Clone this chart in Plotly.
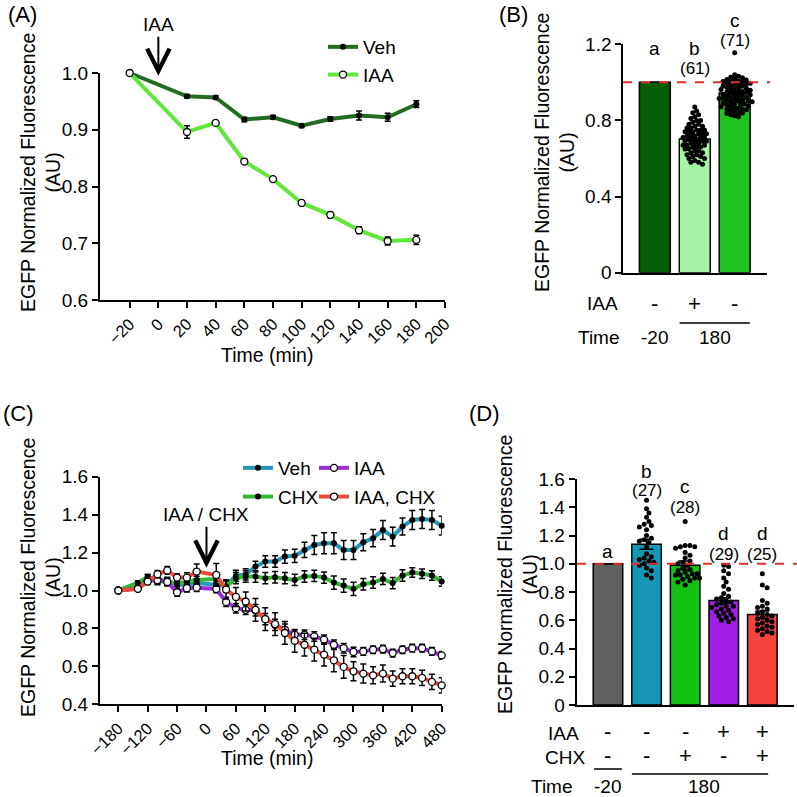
import plotly.graph_objects as go

W, H = 797, 797
FONT = "Liberation Sans, Arial, Helvetica, sans-serif"

# ---------------- Panel A data ----------------
tA = [-20, 20, 40, 60, 80, 100, 120, 140, 160, 180]
vehA = [1.0, 0.959, 0.957, 0.918, 0.922, 0.907, 0.919, 0.925, 0.922, 0.945]
vehA_err = [0, 0.003, 0.003, 0.004, 0.003, 0.003, 0.004, 0.008, 0.007, 0.006]
iaaA = [1.0, 0.896, 0.912, 0.844, 0.813, 0.771, 0.750, 0.723, 0.704, 0.706]
iaaA_err = [0, 0.011, 0.003, 0.003, 0.003, 0.003, 0.005, 0.006, 0.007, 0.008]
A_xticks = [-20, 0, 20, 40, 60, 80, 100, 120, 140, 160, 180, 200]
A_yticks = [0.6, 0.7, 0.8, 0.9, 1.0]

# ---------------- Panel B data ----------------
B_means = [1.0, 0.702, 0.944]
B_sem = [0.0, 0.008, 0.007]
B_letters = ["a", "b", "c"]
B_n = ["", "(61)", "(71)"]
B_iaa = ["-", "+", "-"]
B_pts_iaa = [0.87, 0.85, 0.84, 0.83, 0.82, 0.81, 0.80, 0.80, 0.79, 0.78, 0.78,
             0.77, 0.77, 0.76, 0.76, 0.75, 0.75, 0.75, 0.74, 0.74, 0.74, 0.73,
             0.73, 0.73, 0.72, 0.72, 0.72, 0.71, 0.71, 0.71, 0.70, 0.70, 0.70,
             0.69, 0.69, 0.69, 0.68, 0.68, 0.68, 0.67, 0.67, 0.67, 0.66, 0.66,
             0.66, 0.65, 0.65, 0.64, 0.64, 0.63, 0.63, 0.62, 0.62, 0.61, 0.61,
             0.60, 0.60, 0.59, 0.58, 0.58, 0.57]
B_pts_veh = [1.155, 1.04, 1.032, 1.027,
             1.024, 1.019, 1.015, 1.012, 1.008, 1.004, 1.001,
             0.998, 0.994, 0.991, 0.987, 0.984, 0.981, 0.977, 0.973,
             0.969, 0.966, 0.963, 0.959, 0.955, 0.952, 0.948, 0.945,
             0.941, 0.938, 0.935, 0.931, 0.928, 0.924, 0.921, 0.918,
             0.915, 0.911, 0.908, 0.905, 0.902, 0.898, 0.895, 0.891,
             0.888, 0.884, 0.880, 0.876, 0.872, 0.868, 0.864, 0.860,
             0.856, 0.852, 0.847, 0.842, 0.836, 0.830, 0.824, 0.820,
             1.006, 0.996, 0.979, 0.962, 0.949, 0.933, 0.917, 0.903,
             0.889, 0.874, 0.858, 0.839]
B_yticks = [0, 0.4, 0.8, 1.2]
B_yticktext = ["0", "0.4", "0.8", "1.2"]

# ---------------- Panel C data ----------------
tC = [-180, -140, -120, -100, -80, -60, -40, -20, 20, 40, 60, 80, 100, 120,
      140, 160, 180, 200, 220, 240, 260, 280, 300, 320, 340, 360, 380, 400,
      420, 440, 460, 480]
vehC = [1.00, 1.04, 1.07, 1.06, 1.05, 1.03, 1.03, 1.04, 1.03, 1.025, 1.077,
        1.085, 1.126, 1.153, 1.153, 1.179, 1.183, 1.214, 1.24, 1.249, 1.249,
        1.214, 1.214, 1.254, 1.276, 1.319, 1.284, 1.337, 1.372, 1.377, 1.372,
        1.342]
vehC_err = [0, 0.01, 0.015, 0.02, 0.02, 0.02, 0.02, 0.02, 0.02, 0.03, 0.03,
            0.03, 0.028, 0.03, 0.03, 0.035, 0.035, 0.04, 0.05, 0.055, 0.055,
            0.05, 0.05, 0.045, 0.045, 0.05, 0.05, 0.045, 0.05, 0.05, 0.05, 0.05]
chxC = [1.00, 1.04, 1.07, 1.05, 1.045, 1.04, 1.045, 1.055, 1.06, 1.02, 1.065,
        1.074, 1.074, 1.065, 1.07, 1.065, 1.056, 1.074, 1.077, 1.068, 1.042,
        1.026, 1.009, 1.033, 1.042, 1.061, 1.039, 1.079, 1.095, 1.088, 1.079,
        1.047]
chxC_err = [0, 0.01, 0.015, 0.02, 0.02, 0.02, 0.02, 0.02, 0.02, 0.03, 0.03,
            0.03, 0.03, 0.03, 0.03, 0.03, 0.03, 0.03, 0.03, 0.03, 0.035, 0.035,
            0.035, 0.03, 0.03, 0.03, 0.03, 0.03, 0.025, 0.025, 0.025, 0.025]
iaaC = [1.00, 1.01, 1.05, 1.055, 1.045, 0.99, 1.012, 1.015, 1.008, 0.94,
        0.907, 0.898, 0.896, 0.849, 0.819, 0.793, 0.767, 0.767, 0.758, 0.741,
        0.714, 0.696, 0.676, 0.679, 0.688, 0.691, 0.670, 0.688, 0.696, 0.696,
        0.679, 0.658]
iaaC_err = [0, 0.01, 0.015, 0.02, 0.02, 0.02, 0.02, 0.02, 0.02, 0.025, 0.025,
            0.025, 0.03, 0.03, 0.03, 0.03, 0.025, 0.025, 0.025, 0.025, 0.025,
            0.025, 0.025, 0.02, 0.02, 0.02, 0.02, 0.02, 0.02, 0.02, 0.02, 0.02]
iaachxC = [1.00, 1.009, 1.047, 1.086, 1.106, 1.068, 1.068, 1.10, 1.082, 1.005,
           0.966, 0.942, 0.898, 0.849, 0.823, 0.776, 0.735, 0.714, 0.688,
           0.662, 0.632, 0.597, 0.574, 0.562, 0.553, 0.562, 0.535, 0.548,
           0.548, 0.539, 0.518, 0.500]
iaachxC_err = [0, 0.01, 0.015, 0.02, 0.02, 0.02, 0.025, 0.04, 0.06, 0.05,
               0.05, 0.05, 0.06, 0.06, 0.06, 0.06, 0.06, 0.06, 0.06, 0.06,
               0.06, 0.06, 0.05, 0.05, 0.045, 0.045, 0.04, 0.04, 0.04, 0.04,
               0.04, 0.04]
C_xticks = [-180, -120, -60, 0, 60, 120, 180, 240, 300, 360, 420, 480]
C_yticks = [0.4, 0.6, 0.8, 1.0, 1.2, 1.4, 1.6]

# ---------------- Panel D data ----------------
D_means = [1.0, 1.138, 0.99, 0.74, 0.64]
D_sem = [0.0, 0.035, 0.03, 0.02, 0.025]
D_letters = ["a", "b", "c", "d", "d"]
D_n = ["", "(27)", "(28)", "(29)", "(25)"]
D_iaa = ["-", "-", "-", "+", "+"]
D_chx = ["-", "-", "+", "-", "+"]
D_pts_veh = [1.45, 1.39, 1.36, 1.33, 1.30, 1.28, 1.27, 1.26, 1.24, 1.20, 1.18,
             1.17, 1.16, 1.15, 1.12, 1.07, 1.05, 1.04, 1.03, 1.02, 1.01, 1.00,
             0.99, 0.97, 0.95, 0.92, 0.90]
D_pts_chx = [1.30, 1.13, 1.13, 1.12, 1.12, 1.11, 1.08, 1.06, 1.04, 1.02, 1.01,
             1.00, 0.99, 0.97, 0.96, 0.95, 0.94, 0.93, 0.93, 0.92, 0.92, 0.91,
             0.90, 0.90, 0.89, 0.88, 0.87, 0.85]
D_pts_iaa = [0.99, 0.98, 0.95, 0.93, 0.90, 0.87, 0.84, 0.82, 0.79, 0.77, 0.76,
             0.75, 0.74, 0.73, 0.72, 0.71, 0.70, 0.70, 0.69, 0.68, 0.67, 0.66,
             0.65, 0.64, 0.63, 0.62, 0.61, 0.60, 0.59]
D_pts_iaachx = [0.93, 0.85, 0.83, 0.74, 0.72, 0.70, 0.69, 0.68, 0.66, 0.65,
                0.64, 0.63, 0.62, 0.61, 0.60, 0.59, 0.58, 0.57, 0.56, 0.55,
                0.54, 0.53, 0.52, 0.51, 0.50]
D_yticks = [0, 0.2, 0.4, 0.6, 0.8, 1.0, 1.2, 1.4, 1.6]
D_yticktext = ["0", "0.2", "0.4", "0.6", "0.8", "1.0", "1.2", "1.4", "1.6"]

# ---------------- styling ----------------
cVehA, cIaaA = "#246c24", "#62e83c"
B_colors = ["#045c04", "#a4f6a4", "#1fc21f"]
cVehC, cChxC, cIaaC, cIcC = "#2397b5", "#33b833", "#9a2fd6", "#ee4a3c"
D_colors = ["#606060", "#1597b5", "#14c214", "#a11fe6", "#f5433d"]
RED = "#e0302a"


def PX(x):
    return x / W


def PY(y):
    return 1 - y / H


def beeswarm(vals, center, ppx, ppy, d=5.0):
    """Deterministic beeswarm layout (pixel-based collision avoidance)."""
    order = sorted(range(len(vals)), key=lambda i: -vals[i])
    placed = []
    xs = [center] * len(vals)
    cands = [0.0]
    for j in range(1, 80):
        cands += [j * d * 0.5, -j * d * 0.5]
    for i in order:
        yp = vals[i] * ppy
        for c in cands:
            if all((c - a) ** 2 + (yp - b) ** 2 >= d * d * 0.98 for a, b in placed):
                break
        placed.append((c, yp))
        xs[i] = center + c / ppx
    return xs


fig = go.Figure()
eb = dict(type="data", color="black", thickness=1.5, width=3, visible=True)

# ---- Panel A traces ----
fig.add_trace(go.Scatter(x=tA, y=vehA, error_y=dict(array=vehA_err, **eb),
                         mode="lines+markers", name="Veh",
                         line=dict(color=cVehA, width=4),
                         marker=dict(color="black", size=6),
                         xaxis="x", yaxis="y", legend="legend", cliponaxis=False))
fig.add_trace(go.Scatter(x=tA, y=iaaA, error_y=dict(array=iaaA_err, **eb),
                         mode="lines+markers", name="IAA",
                         line=dict(color=cIaaA, width=4),
                         marker=dict(color="white", size=7,
                                     line=dict(color="black", width=1.3)),
                         xaxis="x", yaxis="y", legend="legend", cliponaxis=False))

# ---- Panel B traces ----
fig.add_trace(go.Bar(x=[0, 1, 2], y=B_means, width=0.775,
                     marker=dict(color=B_colors, line=dict(color="black", width=1.5)),
                     xaxis="x2", yaxis="y2", showlegend=False))
for idx, pts in [(1, B_pts_iaa), (2, B_pts_veh)]:
    fig.add_trace(go.Scatter(x=beeswarm(pts, idx, 40.0, 190.0, d=3.9), y=pts,
                             mode="markers", marker=dict(color="black", size=5),
                             xaxis="x2", yaxis="y2", showlegend=False,
                             cliponaxis=False))
fig.add_trace(go.Scatter(x=[0, 1, 2], y=B_means, mode="markers",
                         marker=dict(size=1, color="rgba(0,0,0,0)"),
                         error_y=dict(array=B_sem, type="data", color="black",
                                      thickness=1.5, width=6),
                         xaxis="x2", yaxis="y2", showlegend=False))

# ---- Panel C traces ----
seriesC = [("Veh", vehC, vehC_err, cVehC, "black", "legend2", "g1"),
           ("CHX", chxC, chxC_err, cChxC, "black", "legend2", "g2"),
           ("IAA", iaaC, iaaC_err, cIaaC, "white", "legend3", "g3"),
           ("IAA, CHX", iaachxC, iaachxC_err, cIcC, "white", "legend3", "g4")]
for name, ys, es, col, mcol, lg, grp in seriesC:
    mk = dict(color=mcol, size=6 if mcol == "black" else 7)
    if mcol == "white":
        mk["line"] = dict(color="black", width=1.3)
    fig.add_trace(go.Scatter(x=tC, y=ys, error_y=dict(array=es, **eb),
                             mode="lines+markers", name=name,
                             line=dict(color=col, width=4), marker=mk,
                             xaxis="x3", yaxis="y3", legend=lg,
                             legendgroup=grp, cliponaxis=False))

# ---- Panel D traces ----
fig.add_trace(go.Bar(x=[0, 1, 2, 3, 4], y=D_means, width=0.765,
                     marker=dict(color=D_colors, line=dict(color="black", width=1.5)),
                     xaxis="x4", yaxis="y4", showlegend=False))
for idx, pts in [(1, D_pts_veh), (2, D_pts_chx), (3, D_pts_iaa), (4, D_pts_iaachx)]:
    fig.add_trace(go.Scatter(x=beeswarm(pts, idx, 38.6, 141.25, d=4.8), y=pts,
                             mode="markers", marker=dict(color="black", size=5),
                             xaxis="x4", yaxis="y4", showlegend=False,
                             cliponaxis=False))
fig.add_trace(go.Scatter(x=[0, 1, 2, 3, 4], y=D_means, mode="markers",
                         marker=dict(size=1, color="rgba(0,0,0,0)"),
                         error_y=dict(array=D_sem, type="data", color="black",
                                      thickness=1.5, width=7),
                         xaxis="x4", yaxis="y4", showlegend=False))

# ---------------- axes ----------------
tickfont = dict(family=FONT, size=19, color="black")
xtickfont = dict(family=FONT, size=16.5, color="black")
common = dict(showline=True, linecolor="black", linewidth=2, ticks="outside",
              ticklen=6, tickwidth=2, tickcolor="black", showgrid=False,
              zeroline=False, fixedrange=True, automargin=False)
common_nt = {k: v for k, v in common.items() if k != "ticks"}

layout_axes = dict(
    xaxis=dict(domain=[PX(100), PX(445)], range=[-40.7, 200], tickvals=A_xticks,
               tickangle=-45, anchor="y", tickfont=xtickfont, **common),
    yaxis=dict(domain=[PY(300), PY(73)], range=[0.6, 1.0], tickvals=A_yticks,
               tickformat=".1f", anchor="x", tickfont=tickfont, **common),
    xaxis2=dict(domain=[PX(623.3), PX(767)], range=[-0.79, 2.81], anchor="y2",
                showticklabels=False, ticks="", **common_nt),
    yaxis2=dict(domain=[PY(272.7), PY(44.3)], range=[0, 1.2], tickvals=B_yticks,
                ticktext=B_yticktext, anchor="x2", tickfont=tickfont, **common),
    xaxis3=dict(domain=[PX(100), PX(441.7)], range=[-217.3, 480], tickvals=C_xticks,
                tickangle=-45, anchor="y3", tickfont=xtickfont, **common),
    yaxis3=dict(domain=[PY(704.3), PY(476.7)], range=[0.4, 1.6], tickvals=C_yticks,
                tickformat=".1f", anchor="x3", tickfont=tickfont, **common),
    xaxis4=dict(domain=[PX(576.7), PX(794)], range=[-0.81, 4.82], anchor="y4",
                showticklabels=False, ticks="", **common_nt),
    yaxis4=dict(domain=[PY(705), PY(479)], range=[0, 1.6], tickvals=D_yticks,
                ticktext=D_yticktext, anchor="x4", tickfont=tickfont, **common),
)

# ---------------- annotations ----------------
ann = []


def txt(x, y, s, size=19, xref="paper", yref="paper", **kw):
    ann.append(dict(x=x, y=y, text=s, xref=xref, yref=yref, showarrow=False,
                    font=dict(family=FONT, size=size, color="black"),
                    xanchor=kw.pop("xanchor", "center"),
                    yanchor=kw.pop("yanchor", "middle"), **kw))


ytitle = "EGFP Normalized Fluorescence<br>(AU)"
# panel labels
txt(PX(22), PY(15), "(A)", size=22)
txt(PX(513), PY(15), "(B)", size=22)
txt(PX(18), PY(413), "(C)", size=22)
txt(PX(484), PY(413), "(D)", size=22)
# axis titles
txt(PX(40), PY(173), ytitle, size=19.5, textangle=-90)
txt(PX(555), PY(153), ytitle, size=19.5, textangle=-90)
txt(PX(40), PY(578), ytitle, size=19.5, textangle=-90)
txt(PX(517), PY(575), ytitle, size=19.5, textangle=-90)
txt(PX(267), PY(355), "Time (min)", size=19.5)
txt(PX(267), PY(758), "Time (min)", size=19.5)

# arrows
arrow = dict(showarrow=True, arrowhead=5, arrowsize=2.2, arrowwidth=2,
             arrowcolor="black", ax=0, font=dict(family=FONT, size=19, color="black"))
ann.append(dict(x=0, y=0.995, xref="x", yref="y", text="IAA", ay=-51, **arrow))
ann.append(dict(x=0, y=1.12, xref="x3", yref="y3", text="IAA / CHX", ay=-53, **arrow))

# panel B letters / n
B_letter_y = [48, 48, 20.5]
B_n_y = [None, 69, 40.5]
for i in range(3):
    txt(i, PY(B_letter_y[i]), B_letters[i], xref="x2")
    if B_n[i]:
        txt(i, PY(B_n_y[i]), B_n[i], size=17, xref="x2")
    txt(i, PY(303), B_iaa[i], size=22, xref="x2")
txt(PX(602), PY(303), "IAA")
txt(PX(599), PY(337), "Time")
txt(0, PY(337), "-20", xref="x2")
txt(1.5, PY(337), "180", xref="x2")

# panel D letters / n
D_letter_y = [551.7, 471.7, 486.7, 533.3, 533.3]
D_n_y = [None, 490.5, 507.5, 554, 554]
for i in range(5):
    txt(i, PY(D_letter_y[i]), D_letters[i], xref="x4")
    if D_n[i]:
        txt(i, PY(D_n_y[i]), D_n[i], size=17, xref="x4")
    txt(i, PY(731), D_iaa[i], size=22, xref="x4")
    txt(i, PY(755), D_chx[i], size=22, xref="x4")
txt(PX(563), PY(733), "IAA")
txt(PX(565), PY(757), "CHX")
txt(PX(552), PY(786), "Time")
txt(0, PY(786), "-20", xref="x4")
txt(2.5, PY(786), "180", xref="x4")

# ---------------- shapes ----------------
shapes = [
    dict(type="line", xref="paper", yref="y2", x0=PX(623), x1=PX(770), y0=1.0, y1=1.0,
         line=dict(color=RED, width=2, dash="dash")),
    dict(type="line", xref="paper", yref="y4", x0=PX(577), x1=PX(797), y0=1.0, y1=1.0,
         line=dict(color=RED, width=2, dash="dash")),
    dict(type="line", xref="x2", yref="paper", x0=0.62, x1=2.38, y0=PY(323), y1=PY(323),
         line=dict(color="black", width=1.5)),
    dict(type="line", xref="x4", yref="paper", x0=-0.36, x1=0.36, y0=PY(769), y1=PY(769),
         line=dict(color="black", width=1.5)),
    dict(type="line", xref="x4", yref="paper", x0=0.62, x1=4.15, y0=PY(774), y1=PY(774),
         line=dict(color="black", width=1.5)),
]

legfont = dict(family=FONT, size=19, color="black")
fig.update_layout(
    template="none",
    width=W, height=H,
    margin=dict(l=0, r=0, t=0, b=0, pad=0, autoexpand=False),
    paper_bgcolor="white", plot_bgcolor="white",
    font=dict(family=FONT, size=18, color="black"),
    annotations=ann, shapes=shapes, barmode="overlay",
    legend=dict(x=PX(323), y=PY(28), xanchor="left", yanchor="top", font=legfont,
                bgcolor="rgba(0,0,0,0)", itemwidth=30, tracegroupgap=0),
    legend2=dict(x=PX(238), y=PY(449), xanchor="left", yanchor="top", font=legfont,
                 bgcolor="rgba(0,0,0,0)", itemwidth=30, tracegroupgap=1),
    legend3=dict(x=PX(314), y=PY(449), xanchor="left", yanchor="top", font=legfont,
                 bgcolor="rgba(0,0,0,0)", itemwidth=30, tracegroupgap=1),
    **layout_axes,
)

fig.write_html("out.html", config={"displayModeBar": False},
               post_script="document.body.style.margin='0px';"
                           "document.body.style.padding='0px';")
